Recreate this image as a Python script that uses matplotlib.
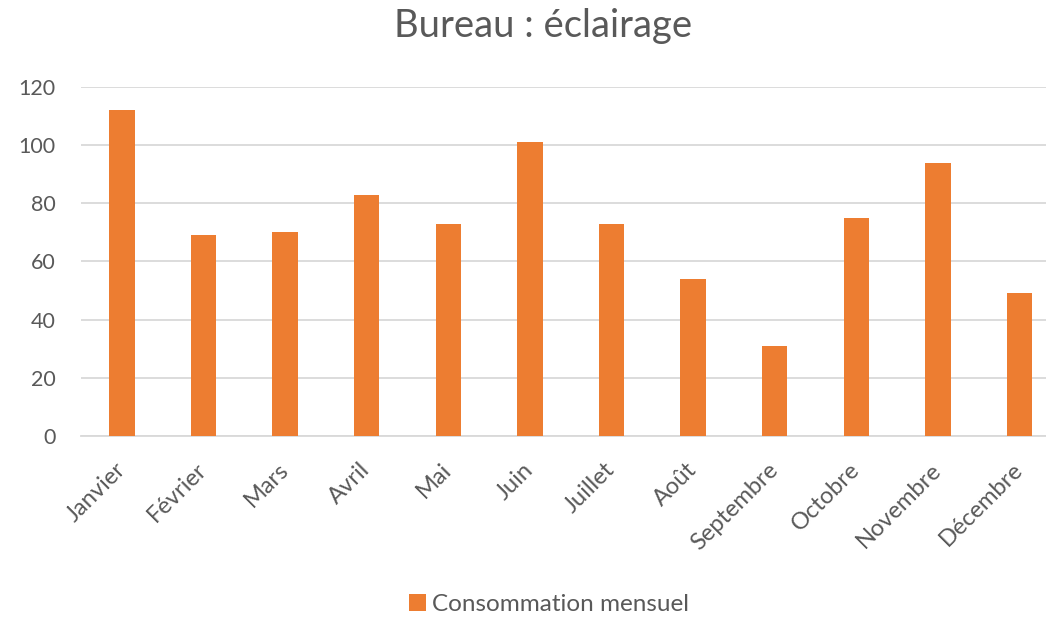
import matplotlib
matplotlib.use("Agg")
import matplotlib.pyplot as plt
from matplotlib.patches import Patch

plt.rcParams['font.family'] = ['Lato', 'DejaVu Sans']

mois = ['Janvier', 'Février', 'Mars', 'Avril', 'Mai', 'Juin', 'Juillet',
        'Août', 'Septembre', 'Octobre', 'Novembre', 'Décembre']
consommation = [112, 69, 70, 83, 73, 101, 73, 54, 31, 75, 94, 49]
yticks = [0, 20, 40, 60, 80, 100, 120]

orange = '#ED7D31'
text_col = '#595959'
grid_col = '#D9D9D9'

fig = plt.figure(figsize=(10.46, 6.17), dpi=100)
# plot area runs a little past the right edge, as in the source picture
ax = fig.add_axes([0.0776, 0.2934, 0.936, 0.5656])

x = range(len(mois))
ax.bar(x, consommation, width=0.3125, color=orange, zorder=3)

ax.set_xlim(-0.5, len(mois) - 0.5)
ax.set_ylim(0, 120)
ax.set_yticks(yticks)
ax.set_xticks(list(x))
ax.set_xticklabels(mois, rotation=45, ha='right', va='center',
                   rotation_mode='anchor')

ax.grid(axis='y', color=grid_col, linewidth=1.3, zorder=0)
for s in ['top', 'right', 'left']:
    ax.spines[s].set_visible(False)
ax.spines['bottom'].set_color(grid_col)
ax.spines['bottom'].set_linewidth(1.3)
ax.tick_params(axis='both', length=0, colors=text_col)
ax.tick_params(axis='y', pad=18.5, labelsize=15.5)
ax.tick_params(axis='x', pad=22, labelsize=17)

fig.text(0.5196, 1 - 37 / 617, 'Bureau : éclairage', ha='center', va='baseline',
         fontsize=27.5, color=text_col)

handles = [Patch(facecolor=orange, label='Consommation mensuel')]
fig.legend(handles=handles, loc='center', bbox_to_anchor=(0.525, 0.021),
           frameon=False, fontsize=17.5, handlelength=0.7, handleheight=0.7,
           handletextpad=0.25, labelcolor=text_col)

fig.savefig('out.png', dpi=100)
